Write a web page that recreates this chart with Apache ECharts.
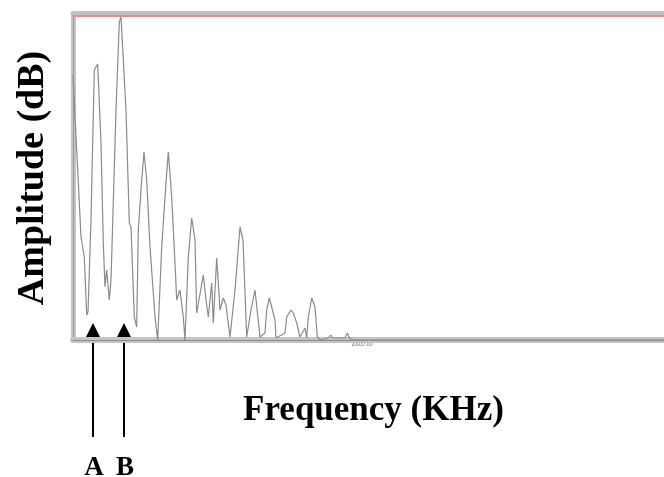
<!DOCTYPE html>
<html><head><meta charset="utf-8">
<script src="https://cdn.jsdelivr.net/npm/echarts@6/dist/echarts.min.js"></script>
<style>html,body{margin:0;padding:0;background:#fff}#c{width:664px;height:477px}</style>
</head><body><div id="c"></div>
<script>
// frequency (arbitrary units along the sweep) and amplitude (arbitrary dB units)
const freq = [0,4.7,8,11.3,13.7,15,18,21.3,24.7,28,30.3,32,33.7,36.3,38,43,46.3,48,53,56.3,58,61.3,63.7,65.3,68.7,71,73.7,77,82,84.7,88.7,92,95.3,98.7,102,103.7,107,110.3,112,115.3,118.7,122,123.7,130.3,133,135.3,138.7,140.3,143.7,147,150.3,153,157,162,167,170,173.7,178,182,187,192,193.7,196.3,198.7,202,203,212,213.7,218,220.3,223.7,227,232,233.7,235.3,238.7,242,244.3,247,255.3,257.7,259.7,272,274.3,276.3,279,591];
const amp  = [265,170,103,83,25,28,120,270,276,197,97,53,70,40,60,230,318,323,230,117,113,23,13,110,160,188,160,93,23,0,93,143,188,143,77,40,50,23,0,83,122,100,27,65,40,23,57,17,82,30,42,35,3,50,113,100,3,30,50,3,7,30,42,33,20,2,7,23,30,27,17,3,12,2,23,42,33,3,0,2,5,2,2,7,2,0,0];
const xMax = 591, yMax = 324;
const markers = ['A','B'];
const markerFreq = [20, 51];
const xTitle = 'Frequency (KHz)';
const yTitle = 'Amplitude (dB)';
const tinyLabel = '20037.00';

const chart = echarts.init(document.getElementById('c'));
const serif = '"Liberation Serif","Times New Roman",serif';
const hidden = {axisTick:{show:false},axisLabel:{show:false},splitLine:{show:false}};
chart.setOption({
  animation:false,
  grid:{left:73,top:16,right:0,bottom:137},
  xAxis:[
    Object.assign({type:'value',min:0,max:xMax,position:'bottom',offset:3,
      axisLine:{lineStyle:{color:'#c4c4c4',width:6}},
      name:xTitle,nameLocation:'middle',nameGap:50,
      nameTextStyle:{fontFamily:serif,fontWeight:'bold',fontSize:35,color:'#000',padding:[0,0,0,10]}},hidden),
    Object.assign({type:'value',min:0,max:xMax,position:'bottom',offset:0,
      axisLine:{lineStyle:{color:'#8c8c8c',width:1}}},hidden),
    Object.assign({type:'value',min:0,max:xMax,position:'top',offset:3,
      axisLine:{lineStyle:{color:'#c0c0c0',width:5}}},hidden),
    Object.assign({type:'value',min:0,max:xMax,position:'top',offset:0,
      axisLine:{lineStyle:{color:'#ee8888',width:2}}},hidden)
  ],
  yAxis:[
    Object.assign({type:'value',min:0,max:yMax,position:'left',offset:3,
      axisLine:{lineStyle:{color:'#c4c4c4',width:5}},
      name:yTitle,nameLocation:'middle',nameGap:18,nameRotate:90,
      nameTextStyle:{fontFamily:serif,fontWeight:'bold',fontSize:38,color:'#000'}},hidden),
    Object.assign({type:'value',min:0,max:yMax,position:'left',offset:0,
      axisLine:{lineStyle:{color:'#999',width:1}}},hidden)
  ],
  series:[{type:'line',data:freq.map((f,i)=>[f,amp[i]]),showSymbol:false,
    lineStyle:{color:'#8a8a8a',width:1.2},xAxisIndex:0,yAxisIndex:0}]
});

const els = [];
markers.forEach((m,i)=>{
  const px = chart.convertToPixel({xAxisIndex:0,yAxisIndex:0},[markerFreq[i],0]);
  const x = px[0], yb = px[1];
  els.push({type:'line',shape:{x1:x,y1:yb-2,x2:x,y2:yb+97},style:{stroke:'#000',lineWidth:2}});
  els.push({type:'polygon',shape:{points:[[x,yb-17],[x-8,yb-1],[x+8,yb-1]]},style:{fill:'#000'}});
  els.push({type:'text',x:x+1,y:yb+142,style:{text:m,fill:'#000',font:'bold 27px '+serif,align:'center',verticalAlign:'bottom'}});
});
els.push({type:'text',x:362,y:345,style:{text:tinyLabel,fill:'#666',font:'5px sans-serif',align:'center',verticalAlign:'middle'}});
chart.setOption({graphic:els});
</script></body></html>
